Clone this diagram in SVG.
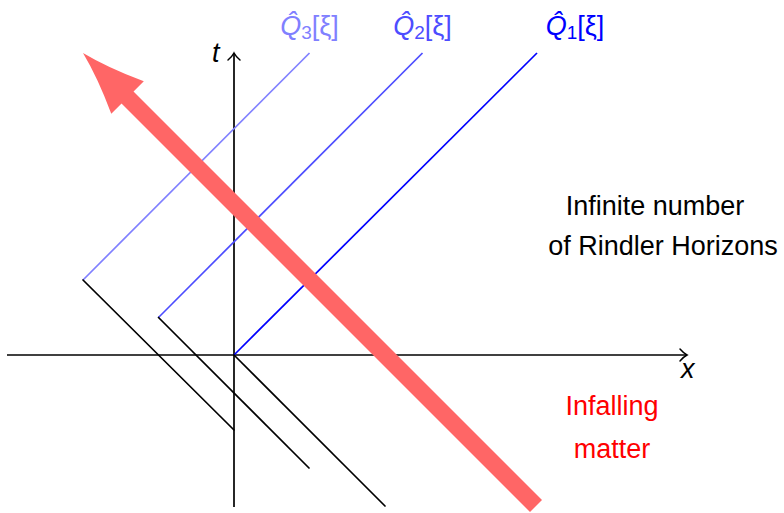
<svg xmlns="http://www.w3.org/2000/svg" width="784" height="513" viewBox="0 0 784 513">
<style>
  .ax { stroke:#000; stroke-width:1.7; fill:none; }
  .bk { stroke:#000; stroke-width:1.7; fill:none; stroke-linecap:round; }
  .lbl { font-family:"Liberation Sans","DejaVu Sans",sans-serif; font-size:27px; }
  .q { font-family:"Liberation Sans","DejaVu Sans",sans-serif; font-size:27px; text-anchor:middle; }
</style>
<defs>
  <marker id="to" markerUnits="userSpaceOnUse" markerWidth="20" markerHeight="20" refX="2" refY="0" viewBox="-8 -10 12 20" orient="auto" overflow="visible">
    <path d="M -5 -6 Q -1 -1.5 2 0 Q -1 1.5 -5 6" stroke="#000" stroke-width="1.5" fill="none" stroke-linecap="round"/>
  </marker>
</defs>
<rect width="784" height="513" fill="#fff"/>

<g id="axes">
  <line class="ax" x1="7" y1="355" x2="687" y2="355" marker-end="url(#to)"/>
  <line class="ax" x1="234" y1="507" x2="234" y2="53" marker-end="url(#to)"/>
  <text class="lbl" x="212" y="62" font-style="italic">t</text>
  <text class="lbl" x="681" y="378" font-style="italic">x</text>
</g>

<g id="connectors">
  <g id="horizon1">
    <line x1="234" y1="355" x2="537" y2="53" stroke="#0000ff" stroke-width="1.7"/>
    <line class="bk" x1="234" y1="355" x2="385" y2="506"/>
  </g>
  <g id="horizon2">
    <line x1="158.5" y1="317.5" x2="422.5" y2="53" stroke="#4d4dff" stroke-width="1.7"/>
    <line class="bk" x1="158.5" y1="317.5" x2="309" y2="468"/>
  </g>
  <g id="horizon3">
    <line x1="83" y1="280" x2="309.5" y2="53" stroke="#8080ff" stroke-width="1.7"/>
    <line class="bk" x1="83" y1="280" x2="234" y2="430"/>
  </g>
</g>

<g id="labels">
  <text class="q" x="309.5" y="35" fill="#8080ff"><tspan font-style="italic">Q̂</tspan><tspan font-size="19" dy="4">3</tspan><tspan dy="-4">[ξ]</tspan></text>
  <text class="q" x="422.5" y="35" fill="#4d4dff"><tspan font-style="italic">Q̂</tspan><tspan font-size="19" dy="4">2</tspan><tspan dy="-4">[ξ]</tspan></text>
  <text class="q" x="575" y="35" fill="#0000ff"><tspan font-style="italic">Q̂</tspan><tspan font-size="19" dy="4">1</tspan><tspan dy="-4">[ξ]</tspan></text>
  <text class="lbl" x="655" y="215" text-anchor="middle">Infinite number</text>
  <text class="lbl" x="663" y="255" text-anchor="middle">of Rindler Horizons</text>
  <text class="lbl" x="612" y="415" text-anchor="middle" fill="#ff0000">Infalling</text>
  <text class="lbl" x="612" y="458" text-anchor="middle" fill="#ff0000">matter</text>
</g>

<g id="infalling-arrow">
  <line x1="536" y1="506" x2="122" y2="92" stroke="#ff6666" stroke-width="17"/>
  <path transform="translate(83,53) rotate(-135)" d="M 0 0 Q -28 -7 -63 -23 L -63 23 Q -28 7 0 0 Z" fill="#ff6666"/>
</g>
</svg>
